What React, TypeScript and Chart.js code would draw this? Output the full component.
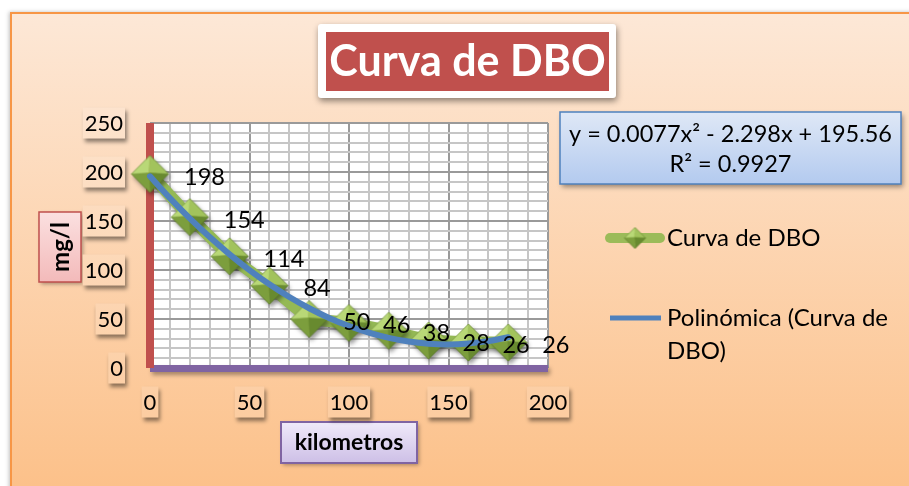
import React, { useEffect, useRef } from 'react';
import { Chart, registerables } from 'chart.js';

Chart.register(...registerables);

// ---- data ----
const kilometros = [0, 20, 40, 60, 80, 100, 120, 140, 160, 180];
const dboValues = [198, 154, 114, 84, 50, 46, 38, 28, 26, 26];
const trendKm = [0, 10, 20, 30, 40, 50, 60, 70, 80, 90, 100, 110, 120, 130, 140, 150, 160, 170, 180];
const trendDbo = [195.6, 173.4, 152.7, 133.6, 116.0, 99.9, 85.4, 72.4, 61.0, 51.1, 42.8, 36.0, 30.7, 27.0, 24.8, 24.1, 25.0, 27.4, 31.4];
const xTickValues = [0, 50, 100, 150, 200];
const xTickLabels = ['0', '50', '100', '150', '200'];
const yTickValues = [0, 50, 100, 150, 200, 250];
const yTickLabels = ['0', '50', '100', '150', '200', '250'];
const chartTitle = 'Curva de DBO';
const xAxisTitle = 'kilometros';
const yAxisTitle = 'mg/l';
const seriesName = 'Curva de DBO';
const trendNameLines = ['Polinómica (Curva de', 'DBO)'];
const equationLines = ['y = 0.0077x² - 2.298x + 195.56', 'R² = 0.9927'];

const FONT = 'Lato, "Open Sans", "DejaVu Sans", sans-serif';

function makeDiamond(r: number): HTMLCanvasElement {
  const pad = 2;
  const size = Math.ceil(2 * r + 2 * pad);
  const c = document.createElement('canvas');
  c.width = size;
  c.height = size;
  const g = c.getContext('2d')!;
  const cx = size / 2;
  const cy = size / 2;
  const T = [cx, cy - r];
  const R = [cx + r, cy];
  const B = [cx, cy + r];
  const L = [cx - r, cy];
  const A = [cx - r * 0.05, cy - r * 0.05];
  const face = (p1: number[], p2: number[], col: string) => {
    g.beginPath();
    g.moveTo(p1[0], p1[1]);
    g.lineTo(p2[0], p2[1]);
    g.lineTo(A[0], A[1]);
    g.closePath();
    g.fillStyle = col;
    g.fill();
    g.strokeStyle = col;
    g.lineWidth = 0.6;
    g.stroke();
  };
  face(L, T, '#b9d877');
  face(T, R, '#a2c35c');
  face(R, B, '#688a2f');
  face(B, L, '#7c9e3d');
  g.beginPath();
  g.moveTo(T[0], T[1]);
  g.lineTo(R[0], R[1]);
  g.lineTo(B[0], B[1]);
  g.lineTo(L[0], L[1]);
  g.closePath();
  g.strokeStyle = 'rgba(80,110,35,0.6)';
  g.lineWidth = 0.8;
  g.stroke();
  return c;
}

function shadowed(ctx: CanvasRenderingContext2D, blur: number, dx: number, dy: number, col: string, fn: () => void) {
  ctx.save();
  ctx.shadowColor = col;
  ctx.shadowBlur = blur;
  ctx.shadowOffsetX = dx;
  ctx.shadowOffsetY = dy;
  fn();
  ctx.restore();
}

export default function App() {
  const ref = useRef<HTMLCanvasElement | null>(null);

  useEffect(() => {
    const canvas = ref.current;
    if (!canvas) return;
    const diamond = makeDiamond(18.5);
    const legendDiamond = makeDiamond(10.5);

    const decor = {
      id: 'decor',
      beforeDraw(chart: any) {
        const ctx: CanvasRenderingContext2D = chart.ctx;
        const W = chart.width;
        const H = chart.height;
        ctx.save();
        ctx.fillStyle = '#ffffff';
        ctx.fillRect(0, 0, W, H);
        // card
        const grad = ctx.createLinearGradient(0, 12, 0, H);
        grad.addColorStop(0, '#fde8d7');
        grad.addColorStop(1, '#fcc18a');
        shadowed(ctx, 4, -1, 0, 'rgba(0,0,0,0.25)', () => {
          ctx.fillStyle = grad;
          ctx.fillRect(10, 12, W, H);
        });
        ctx.strokeStyle = '#f79646';
        ctx.lineWidth = 2;
        ctx.beginPath();
        ctx.moveTo(11, H + 5);
        ctx.lineTo(11, 13);
        ctx.lineTo(W + 5, 13);
        ctx.stroke();

        // title
        shadowed(ctx, 6, 1, 3, 'rgba(0,0,0,0.45)', () => {
          ctx.fillStyle = '#ffffff';
          ctx.beginPath();
          ctx.roundRect(318, 24, 298, 74, 3);
          ctx.fill();
        });
        ctx.fillStyle = '#c0504d';
        ctx.fillRect(326, 32, 283, 59);
        ctx.fillStyle = '#ffffff';
        ctx.font = `bold 43px ${FONT}`;
        ctx.textAlign = 'center';
        ctx.textBaseline = 'middle';
        ctx.fillText(chartTitle, 467.5, 62);

        // white plot background
        const a = chart.chartArea;
        ctx.fillStyle = '#ffffff';
        ctx.fillRect(a.left, a.top, a.right - a.left, a.bottom - a.top);

        // y axis title box
        const yg = ctx.createLinearGradient(0, 212, 0, 282);
        yg.addColorStop(0, '#fbe0e0');
        yg.addColorStop(1, '#f3baba');
        shadowed(ctx, 4, 2, 2, 'rgba(0,0,0,0.35)', () => {
          ctx.fillStyle = yg;
          ctx.fillRect(39, 212, 42, 70);
        });
        ctx.strokeStyle = '#c0504d';
        ctx.lineWidth = 1.5;
        ctx.strokeRect(39, 212, 42, 70);
        ctx.save();
        ctx.translate(61, 247);
        ctx.rotate(-Math.PI / 2);
        ctx.fillStyle = '#000';
        ctx.font = `bold 24px ${FONT}`;
        ctx.textAlign = 'center';
        ctx.textBaseline = 'middle';
        ctx.fillText(yAxisTitle, 0, 0);
        ctx.restore();

        // x axis title box
        const xg = ctx.createLinearGradient(0, 422, 0, 463);
        xg.addColorStop(0, '#f0eafa');
        xg.addColorStop(1, '#cdbfe6');
        shadowed(ctx, 4, 2, 2, 'rgba(0,0,0,0.35)', () => {
          ctx.fillStyle = xg;
          ctx.fillRect(281, 422, 136, 41);
        });
        ctx.strokeStyle = '#8064a2';
        ctx.lineWidth = 2;
        ctx.strokeRect(281, 422, 136, 41);
        ctx.fillStyle = '#000';
        ctx.font = `bold 23px ${FONT}`;
        ctx.textAlign = 'center';
        ctx.textBaseline = 'middle';
        ctx.fillText(xAxisTitle, 349, 443);

        // equation box
        const eg = ctx.createLinearGradient(0, 112, 0, 184);
        eg.addColorStop(0, '#dfe8f6');
        eg.addColorStop(1, '#b3caef');
        shadowed(ctx, 5, 2, 3, 'rgba(0,0,0,0.4)', () => {
          ctx.fillStyle = eg;
          ctx.fillRect(560, 112, 341, 72);
        });
        ctx.strokeStyle = '#4f81bd';
        ctx.lineWidth = 1.5;
        ctx.strokeRect(560, 112, 341, 72);
        ctx.fillStyle = '#000';
        ctx.font = `23.5px ${FONT}`;
        ctx.textAlign = 'center';
        ctx.textBaseline = 'middle';
        ctx.fillText(equationLines[0], 730.5, 134);
        ctx.fillText(equationLines[1], 730.5, 164);

        // legend
        ctx.lineCap = 'round';
        ctx.strokeStyle = '#9bbb59';
        ctx.lineWidth = 10;
        ctx.beginPath();
        ctx.moveTo(610, 238);
        ctx.lineTo(660, 238);
        ctx.stroke();
        ctx.drawImage(legendDiamond, 635 - legendDiamond.width / 2, 238 - legendDiamond.height / 2);
        ctx.lineCap = 'butt';
        ctx.strokeStyle = '#4f81bd';
        ctx.lineWidth = 5;
        ctx.beginPath();
        ctx.moveTo(610, 318);
        ctx.lineTo(661, 318);
        ctx.stroke();
        ctx.fillStyle = '#000';
        ctx.font = `24px ${FONT}`;
        ctx.textAlign = 'left';
        ctx.textBaseline = 'middle';
        ctx.fillText(seriesName, 667, 238);
        ctx.fillText(trendNameLines[0], 667, 318);
        ctx.fillText(trendNameLines[1], 667, 351);

        // tick labels
        const xs = chart.scales.x;
        const ys = chart.scales.y;
        const labelBox = (text: string, x: number, y: number, align: 'right' | 'center') => {
          ctx.save();
          ctx.font = `22px ${FONT}`;
          const w = ctx.measureText(text).width + 4;
          const h = 31;
          const left = align === 'right' ? x - w : x - w / 2;
          const top = y - h / 2;
          shadowed(ctx, 4, 2, 3, 'rgba(0,0,0,0.45)', () => {
            ctx.fillStyle = grad;
            ctx.fillRect(left, top, w, h);
          });
          ctx.fillStyle = 'rgba(255,255,255,0.12)';
          ctx.fillRect(left, top, w, h);
          ctx.fillStyle = '#000';
          ctx.textAlign = 'center';
          ctx.textBaseline = 'middle';
          ctx.fillText(text, left + w / 2, y + 1);
          ctx.restore();
        };
        yTickValues.forEach((v, i) => labelBox(yTickLabels[i], 125, ys.getPixelForValue(v), 'right'));
        xTickValues.forEach((v, i) => labelBox(xTickLabels[i], xs.getPixelForValue(v), 402, 'center'));
        ctx.restore();
      },
      beforeDatasetsDraw(chart: any) {
        const ctx: CanvasRenderingContext2D = chart.ctx;
        const xs = chart.scales.x;
        const ys = chart.scales.y;
        const x0 = xs.getPixelForValue(0);
        const x1 = xs.getPixelForValue(200);
        const yTop = ys.getPixelForValue(250);
        const y0 = ys.getPixelForValue(0);
        ctx.save();
        shadowed(ctx, 4, 2, 3, 'rgba(0,0,0,0.35)', () => {
          ctx.fillStyle = '#8064a2';
          ctx.fillRect(x0, y0 - 3, x1 - x0, 7);
        });
        ctx.fillStyle = '#c0504d';
        ctx.fillRect(x0 - 4, yTop, 8, y0 - yTop);
        ctx.restore();
      },
      beforeDatasetDraw(chart: any, args: any) {
        const ctx: CanvasRenderingContext2D = chart.ctx;
        ctx.save();
        if (args.index === 0) {
          ctx.shadowColor = 'rgba(0,0,0,0.4)';
          ctx.shadowBlur = 4;
          ctx.shadowOffsetX = 2;
          ctx.shadowOffsetY = 3;
        }
      },
      afterDatasetDraw(chart: any) {
        chart.ctx.restore();
      },
      afterDatasetsDraw(chart: any) {
        const ctx: CanvasRenderingContext2D = chart.ctx;
        const meta = chart.getDatasetMeta(0);
        ctx.save();
        ctx.fillStyle = '#000';
        ctx.font = `23.5px ${FONT}`;
        ctx.textAlign = 'left';
        ctx.textBaseline = 'middle';
        meta.data.forEach((el: any, i: number) => {
          ctx.fillText(String(dboValues[i]), el.x + 34, el.y + 3);
        });
        ctx.restore();
      },
    };

    const gridColor = (c: any) => (c.tick && c.tick.value % 50 === 0 ? '#9a9a9a' : '#c6c6c6');

    const chart = new Chart(canvas, {
      type: 'scatter',
      data: {
        datasets: [
          {
            label: seriesName,
            data: kilometros.map((k, i) => ({ x: k, y: dboValues[i] })),
            showLine: true,
            borderColor: '#94b955',
            borderWidth: 12,
            pointStyle: diamond as any,
            pointRadius: 18,
            clip: false as any,
            order: 2,
          },
          {
            label: trendNameLines.join(' '),
            data: trendKm.map((k, i) => ({ x: k, y: trendDbo[i] })),
            showLine: true,
            borderColor: '#4f81bd',
            borderWidth: 6,
            borderCapStyle: 'round',
            pointRadius: 0,
            tension: 0.3,
            clip: false as any,
            order: 1,
          },
        ],
      },
      options: {
        animation: false,
        responsive: false,
        devicePixelRatio: 1,
        events: [],
        layout: { padding: { left: 150, top: 123, right: 361, bottom: 118 } },
        plugins: { legend: { display: false }, tooltip: { enabled: false }, title: { display: false } },
        scales: {
          x: {
            type: 'linear',
            min: 0,
            max: 200,
            ticks: { stepSize: 10, display: false },
            grid: { color: gridColor, lineWidth: 2, drawTicks: false },
            border: { display: false },
            afterFit: (s: any) => {
              s.height = 0;
            },
          },
          y: {
            type: 'linear',
            min: 0,
            max: 250,
            ticks: { stepSize: 10, display: false },
            grid: { color: gridColor, lineWidth: 2, drawTicks: false },
            border: { display: false },
            afterFit: (s: any) => {
              s.width = 0;
            },
          },
        },
      },
      plugins: [decor],
    });

    return () => chart.destroy();
  }, []);

  return (
    <div style={{ position: 'fixed', left: 0, top: 0, width: 909, height: 486 }}>
      <canvas ref={ref} width={909} height={486} style={{ display: 'block', width: 909, height: 486 }} />
    </div>
  );
}
